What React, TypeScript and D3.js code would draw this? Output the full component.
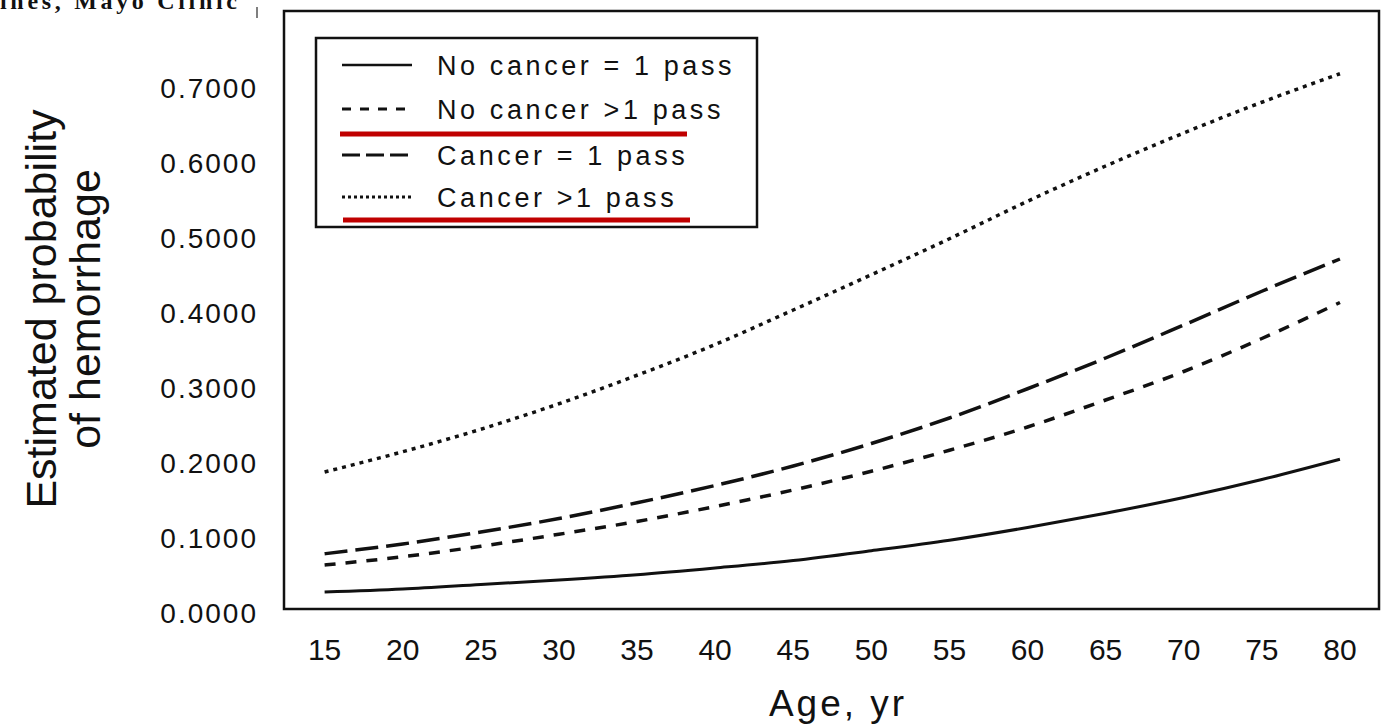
import * as d3 from "d3";

// ages on the x axis (also the tick labels)
const ages = [15, 20, 25, 30, 35, 40, 45, 50, 55, 60, 65, 70, 75, 80];

// estimated probability of hemorrhage
const noCancerOnePass = [0.024, 0.028, 0.034, 0.04, 0.047, 0.056, 0.066, 0.079, 0.093, 0.11, 0.129, 0.15, 0.174, 0.201];
const noCancerMultiPass = [0.06, 0.071, 0.085, 0.101, 0.118, 0.138, 0.16, 0.185, 0.213, 0.244, 0.28, 0.318, 0.362, 0.41];
const cancerOnePass = [0.075, 0.088, 0.104, 0.122, 0.143, 0.166, 0.192, 0.222, 0.256, 0.295, 0.336, 0.38, 0.425, 0.468];
const cancerMultiPass = [0.184, 0.211, 0.241, 0.275, 0.313, 0.354, 0.4, 0.447, 0.495, 0.545, 0.592, 0.636, 0.677, 0.715];

const yTicks = [0, 0.1, 0.2, 0.3, 0.4, 0.5, 0.6, 0.7];
const legendLabels = ["No cancer = 1 pass", "No cancer >1 pass", "Cancer = 1 pass", "Cancer >1 pass"];

const W = 1383;
const H = 726;
const ink = "#111";

export default function App() {
  const x = d3.scaleLinear().domain([12.4, 82.5]).range([284, 1379]);
  const y = d3.scaleLinear().domain([0, 0.8]).range([610, 10]);

  const line = d3
    .line<number>()
    .x((_, i) => x(ages[i]))
    .y((d) => y(d))
    .curve(d3.curveMonotoneX);

  const series = [
    { vals: noCancerOnePass, dash: "none", legendDash: "none", w: 3 },
    { vals: noCancerMultiPass, dash: "11 10", legendDash: "9 9", w: 3.5 },
    { vals: cancerOnePass, dash: "23 8", legendDash: "18 6", w: 3.5 },
    { vals: cancerMultiPass, dash: "4 5", legendDash: "3 3", w: 3.5 },
  ];

  const legendRows = [65, 109, 155, 197];

  return (
    <svg
      width={W}
      height={H}
      style={{ position: "absolute", left: 0, top: 0, background: "#fff" }}
      fontFamily="'Liberation Sans', Arial, sans-serif"
    >
      {/* caption remnant, cut off at the top like the scan */}
      <text x={0} y={9} fontFamily="'Liberation Serif', serif" fontWeight="bold" fontSize={24} textLength={237} lengthAdjust="spacing" fill={ink}>
        ines, Mayo Clinic
      </text>
      <line x1={257} x2={257} y1={7} y2={18} stroke="#555" strokeWidth={1.5} />

      {/* plot frame */}
      <rect x={284} y={11} width={1095} height={598} fill="none" stroke={ink} strokeWidth={2.5} />

      {/* y tick labels */}
      {yTicks.map((t) => (
        <text key={t} x={258} y={y(t) + 13} textAnchor="end" fontSize={28} letterSpacing={2} fill={ink}>
          {t.toFixed(4)}
        </text>
      ))}

      {/* x tick labels */}
      {ages.map((a) => (
        <text key={a} x={x(a)} y={660} textAnchor="middle" fontSize={30} fill={ink}>
          {a}
        </text>
      ))}

      {/* axis titles */}
      <text x={838} y={716} textAnchor="middle" fontSize={37} letterSpacing={3} fill={ink}>
        Age, yr
      </text>
      <g transform="translate(56,309) rotate(-90)">
        <text x={0} y={0} textAnchor="middle" fontSize={43} fill={ink}>
          Estimated probability
        </text>
        <text x={0} y={44} textAnchor="middle" fontSize={43} fill={ink}>
          of hemorrhage
        </text>
      </g>

      {/* curves */}
      {series.map((s, i) => (
        <path key={i} d={line(s.vals) ?? ""} fill="none" stroke={ink} strokeWidth={s.w} strokeDasharray={s.dash} />
      ))}

      {/* legend */}
      <rect x={316} y={38} width={441} height={189} fill="#fff" stroke={ink} strokeWidth={2.5} />
      {series.map((s, i) => (
        <g key={i}>
          <line x1={342} x2={412} y1={legendRows[i]} y2={legendRows[i]} stroke={ink} strokeWidth={s.w - 0.5} strokeDasharray={s.legendDash} />
          <text x={437} y={legendRows[i] + 10} fontSize={27} letterSpacing={3.6} fill={ink}>
            {legendLabels[i]}
          </text>
        </g>
      ))}
      {/* red underlines */}
      <line x1={340} x2={687} y1={134} y2={134} stroke="#c00000" strokeWidth={5} />
      <line x1={343} x2={690} y1={220} y2={220} stroke="#c00000" strokeWidth={5} />
    </svg>
  );
}
